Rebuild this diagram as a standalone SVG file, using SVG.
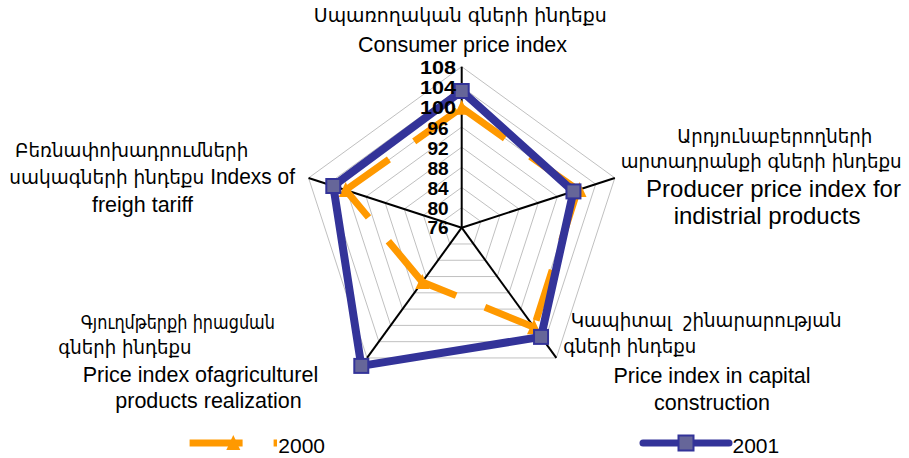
<svg xmlns="http://www.w3.org/2000/svg" xmlns:xlink="http://www.w3.org/1999/xlink" width="909" height="458" viewBox="0 0 909 458">
<style>
.grid{fill:none;stroke:#c0c0c0;stroke-width:1}
.axis{stroke:#000;stroke-width:2}
.s2000{fill:none;stroke:#FF9900;stroke-width:7;stroke-dasharray:53 31;stroke-linecap:butt}
.s2001{fill:none;stroke:#333399;stroke-width:8;stroke-linejoin:round;stroke-linecap:round}
.tick{font-family:"Liberation Sans",Arial,sans-serif;font-weight:bold;font-size:19px;text-anchor:middle;fill:#000}
.lbl{font-family:"Liberation Sans","DejaVu Sans",sans-serif;font-size:21.5px;fill:#000}
.big{font-size:24px}
.leg{font-size:21px}
.arm{font-family:"DejaVu Sans","Liberation Sans",sans-serif;font-size:19px;fill:#000}
.mid{text-anchor:middle}
.pre{white-space:pre}
</style>
<defs>
<rect id="sq" x="-7" y="-7" width="14" height="14" fill="#666699" stroke="#333399" stroke-width="2"/>
<polygon id="tri" points="0,-8 7,7 -7,7" fill="#FF9900"/>
</defs>
<rect width="909" height="458" fill="#fff"/>
<g id="grid">
<polygon class="grid" points="461.7,207.58 480.84,221.48 473.53,243.98 449.87,243.98 442.56,221.48"/>
<polygon class="grid" points="461.7,187.45 499.98,215.26 485.36,260.26 438.04,260.26 423.42,215.26"/>
<polygon class="grid" points="461.7,167.33 519.12,209.04 497.19,276.54 426.21,276.54 404.28,209.04"/>
<polygon class="grid" points="461.7,147.2 538.26,202.82 509.02,292.82 414.38,292.82 385.14,202.82"/>
<polygon class="grid" points="461.7,127.08 557.4,196.6 520.85,309.1 402.55,309.1 366,196.6"/>
<polygon class="grid" points="461.7,106.95 576.54,190.38 532.68,325.38 390.72,325.38 346.86,190.38"/>
<polygon class="grid" points="461.7,86.83 595.68,184.16 544.51,341.66 378.89,341.66 327.72,184.16"/>
<polygon class="grid" points="461.7,66.7 614.82,177.94 556.34,357.94 367.06,357.94 308.58,177.94"/>
</g>
<g id="axes">
<line class="axis" x1="461.7" y1="227.7" x2="461.7" y2="66.7"/>
<line class="axis" x1="461.7" y1="227.7" x2="614.82" y2="177.94"/>
<line class="axis" x1="461.7" y1="227.7" x2="556.34" y2="357.94"/>
<line class="axis" x1="461.7" y1="227.7" x2="367.06" y2="357.94"/>
<line class="axis" x1="461.7" y1="227.7" x2="308.58" y2="177.94"/>
</g>
<g id="connectors">
<g id="series-2000">
<line class="s2000" x1="461.7" y1="107.7" x2="577.7" y2="190"/>
<line class="s2000" x1="577.7" y1="190" x2="534" y2="327.2"/>
<line class="s2000" x1="534" y1="327.2" x2="422.3" y2="281.9"/>
<line class="s2000" x1="422.3" y1="281.9" x2="345.7" y2="190"/>
<line class="s2000" x1="345.7" y1="190" x2="461.7" y2="107.7"/>
<use href="#tri" x="461.7" y="107.7"/>
<use href="#tri" x="579.5" y="190"/>
<use href="#tri" x="534" y="327.2"/>
<use href="#tri" x="422.3" y="281.9"/>
<use href="#tri" x="345.7" y="190"/>
</g>
<g id="series-2001">
<polygon class="s2001" points="461.7,91 573.45,191.4 541.05,336.9 361.3,365.9 333.3,186"/>
<use href="#sq" x="461.7" y="91"/>
<use href="#sq" x="573.45" y="191.4"/>
<use href="#sq" x="541.05" y="336.9"/>
<use href="#sq" x="361.3" y="365.9"/>
<use href="#sq" x="333.3" y="186"/>
</g>
</g>
<g id="ticks">
<text class="tick" x="438" y="74.2" textLength="36" lengthAdjust="spacingAndGlyphs">108</text>
<text class="tick" x="438" y="94.3" textLength="36" lengthAdjust="spacingAndGlyphs">104</text>
<text class="tick" x="438" y="114.4" textLength="36" lengthAdjust="spacingAndGlyphs">100</text>
<text class="tick" x="438" y="134.6">96</text>
<text class="tick" x="438" y="154.7">92</text>
<text class="tick" x="438" y="174.8">88</text>
<text class="tick" x="438" y="195">84</text>
<text class="tick" x="438" y="215.1">80</text>
<text class="tick" x="438" y="234">76</text>
</g>
<g id="label-consumer">
<text class="arm" x="313.8" y="21.5" textLength="293" lengthAdjust="spacingAndGlyphs">Սպառողական գների ինդեքս</text>
<text class="lbl mid" x="462.5" y="51.7">Consumer price index</text>
</g>
<g id="label-producer">
<text class="arm" x="677.3" y="142.5" textLength="195" lengthAdjust="spacingAndGlyphs">Արդյունաբերողների</text>
<text class="arm" x="620.7" y="168.3" textLength="281" lengthAdjust="spacingAndGlyphs">արտադրանքի գների ինդեքս</text>
<text class="lbl big mid" x="773.5" y="196.5">Producer price index for</text>
<text class="lbl big mid" x="767" y="223.5">indistrial products</text>
</g>
<g id="label-capital">
<text class="arm pre" x="570.7" y="326.7" textLength="271" lengthAdjust="spacingAndGlyphs">Կապիտալ  շինարարության</text>
<text class="arm" x="563.3" y="352.5" textLength="133" lengthAdjust="spacingAndGlyphs">գների ինդեքս</text>
<text class="lbl mid" x="712" y="383.3">Price index in capital</text>
<text class="lbl mid" x="712" y="409.8">construction</text>
</g>
<g id="label-agri">
<text class="arm" x="80.7" y="328.5" textLength="194.3" lengthAdjust="spacingAndGlyphs">Գյուղմթերքի իրացման</text>
<text class="arm" x="58.3" y="354" textLength="133.3" lengthAdjust="spacingAndGlyphs">գների ինդեքս</text>
<text class="lbl mid" x="200.5" y="381.5">Price index ofagriculturel</text>
<text class="lbl mid" x="208.5" y="408">products realization</text>
</g>
<g id="label-freight">
<text class="arm" x="15" y="157.3" textLength="233.3" lengthAdjust="spacingAndGlyphs">Բեռնափոխադրումների</text>
<text class="arm" x="9.3" y="184.3" textLength="285.7" lengthAdjust="spacingAndGlyphs">սակագների ինդեքս <tspan class="lbl">Indexs of</tspan></text>
<text class="lbl mid" x="142.5" y="211.5">freigh tariff</text>
</g>
<g id="legend">
<line class="s2000" x1="189.6" y1="443" x2="277" y2="443"/>
<use href="#tri" x="233.3" y="443"/>
<text class="lbl leg" x="278.3" y="452.7">2000</text>
<line class="s2001" x1="643" y1="443" x2="729" y2="443" style="stroke-width:7px"/>
<rect x="678.5" y="435.5" width="15" height="15" fill="#666699" stroke="#333399" stroke-width="2"/>
<text class="lbl leg" x="732.5" y="452.7">2001</text>
</g>
</svg>
